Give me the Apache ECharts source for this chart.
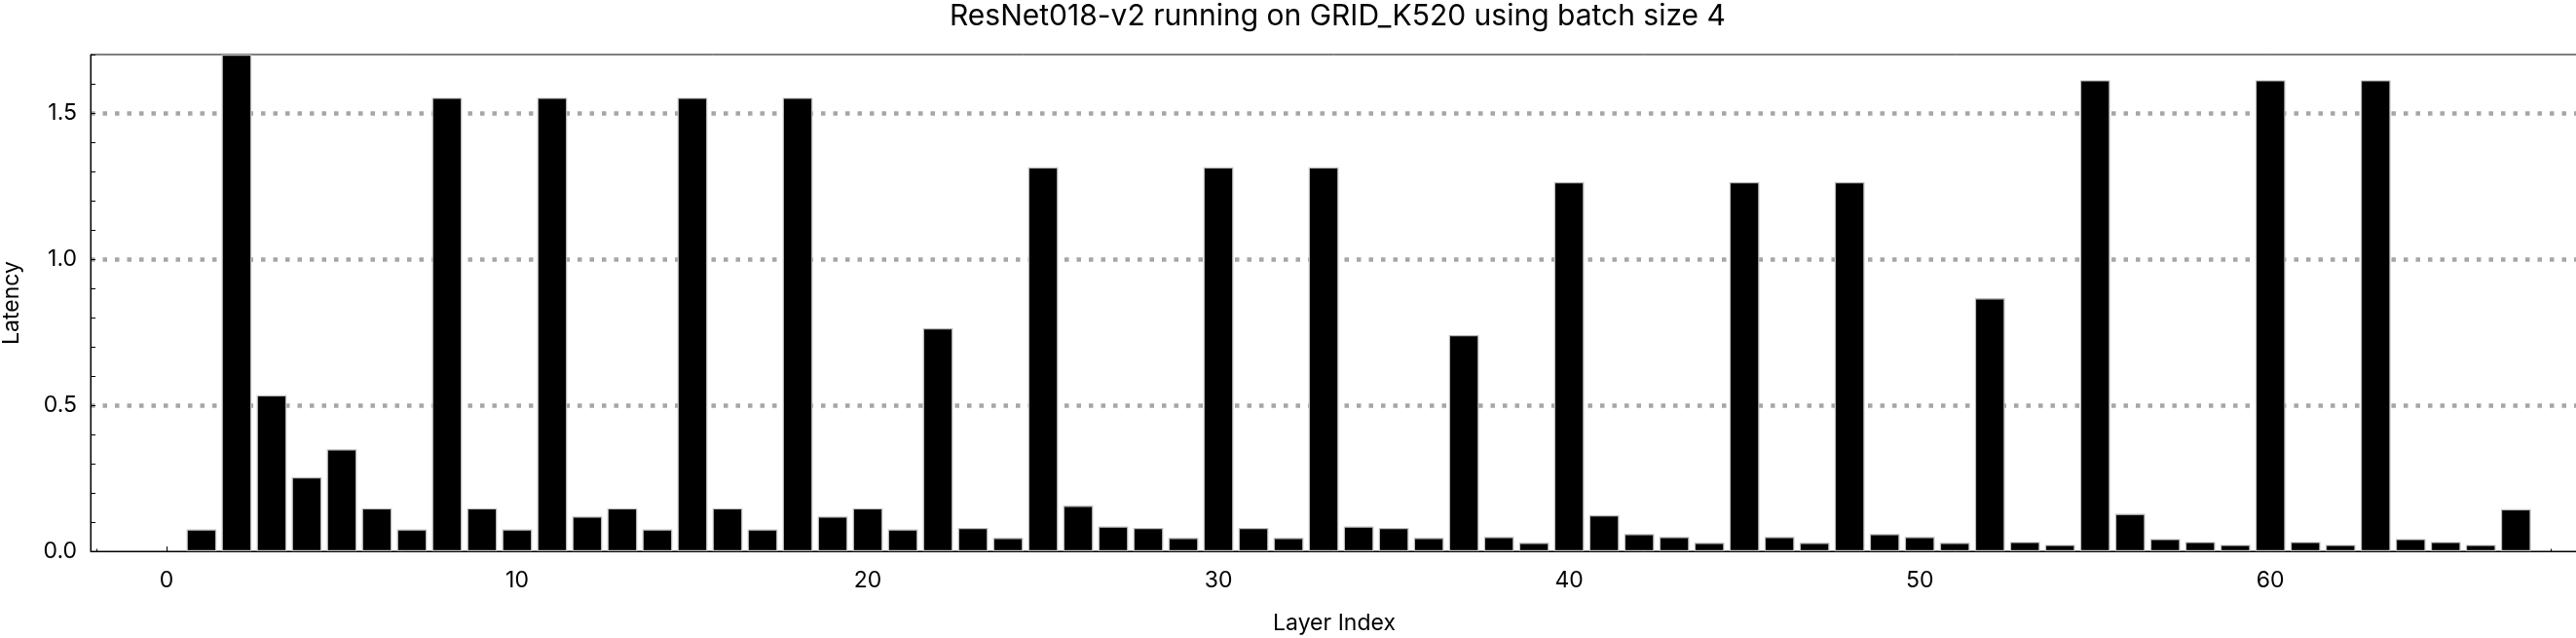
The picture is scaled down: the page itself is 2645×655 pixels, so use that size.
<!DOCTYPE html>
<html>
<head>
<meta charset="utf-8">
<script src="https://cdn.jsdelivr.net/npm/echarts@6/dist/echarts.min.js"></script>
<style>
html,body{margin:0;padding:0;background:#fff;}
#chart{width:2645px;height:655px;}
</style>
</head>
<body>
<div id="chart"></div>
<script>
const titleText = 'ResNet018-v2 running on GRID_K520 using batch size 4';
const xAxisName = 'Layer Index';
const yAxisName = 'Latency';

const layerIndex = [1,2,3,4,5,6,7,8,9,10,11,12,13,14,15,16,17,18,19,20,21,22,23,24,25,26,27,28,29,30,31,32,33,34,35,36,37,38,39,40,41,42,43,44,45,46,47,48,49,50,51,52,53,54,55,56,57,58,59,60,61,62,63,64,65,66,67];
const latency = [0.075,1.70,0.534,0.253,0.349,0.147,0.075,1.552,0.147,0.075,
                 1.552,0.119,0.147,0.075,1.552,0.147,0.075,1.552,0.119,0.147,
                 0.075,0.763,0.080,0.046,1.314,0.156,0.085,0.080,0.046,1.314,
                 0.080,0.046,1.314,0.085,0.080,0.046,0.740,0.049,0.029,1.263,
                 0.123,0.059,0.049,0.029,1.263,0.049,0.029,1.263,0.059,0.049,
                 0.029,0.866,0.032,0.022,1.612,0.128,0.042,0.032,0.022,1.612,
                 0.032,0.022,1.612,0.042,0.032,0.022,0.144];

const xMajorTicks = [0,10,20,30,40,50,60];
const xMinorTicks = [-2,2,4,6,8,12,14,16,18,22,24,26,28,32,34,36,38,42,44,46,48,52,54,56,58,62,64,66,68];

const FONT = 'Inter';
const chart = echarts.init(document.getElementById('chart'), null, {renderer:'canvas'});

const xMin = -2.164, xMax = 68.77;

chart.setOption({
  animation: false,
  backgroundColor: '#fff',
  textStyle: {fontFamily: FONT, color: '#000'},
  title: {
    text: titleText,
    left: 970,
    top: -3,
    textStyle: {fontFamily: FONT, fontSize: 30, fontWeight: 'normal', color: '#000'}
  },
  grid: {
    left: 93, right: -2, top: 56, bottom: 89,
    containLabel: false,
    outerBoundsMode: 'none',
    show: true, borderColor: '#000', borderWidth: 1, backgroundColor: 'transparent'
  },
  xAxis: [{
    type: 'value', min: xMin, max: xMax, position: 'bottom',
    name: xAxisName, nameLocation: 'middle', nameGap: 63,
    nameTextStyle: {fontFamily: FONT, fontSize: 23, color: '#000'},
    axisLine: {show: true, onZero: false, lineStyle: {color: '#000', width: 1}},
    axisTick: {show: true, inside: true, length: 5, customValues: xMajorTicks, lineStyle: {color: '#000', width: 1}},
    axisLabel: {show: true, customValues: xMajorTicks, fontFamily: FONT, fontSize: 23, color: '#000', margin: 19},
    splitLine: {show: false}
  }, {
    type: 'value', min: xMin, max: xMax, position: 'bottom',
    axisLine: {show: false, onZero: false},
    axisTick: {show: true, inside: true, length: 2.5, customValues: xMinorTicks, lineStyle: {color: '#000', width: 1}},
    axisLabel: {show: false},
    splitLine: {show: false}
  }],
  yAxis: [{
    type: 'value', min: 0, max: 1.7, interval: 0.1,
    name: yAxisName, nameLocation: 'middle', nameGap: 69, nameRotate: 90,
    nameTextStyle: {fontFamily: FONT, fontSize: 23, color: '#000'},
    axisLine: {show: true, onZero: false, lineStyle: {color: '#000', width: 1}},
    axisTick: {show: true, inside: true, length: 5, lineStyle: {color: '#000', width: 1}},
    axisLabel: {
      fontFamily: FONT, fontSize: 23, color: '#000', margin: 14,
      formatter: function (v) {
        const h = v * 2;
        return Math.abs(h - Math.round(h)) < 1e-6 && v < 1.65 ? v.toFixed(1) : '';
      }
    },
    splitLine: {show: false}
  }, {
    type: 'value', min: 0, max: 1.7, interval: 0.5, position: 'left',
    axisLine: {show: false, onZero: false}, axisTick: {show: false}, axisLabel: {show: false},
    splitLine: {show: true, showMinLine: false, showMaxLine: false,
      lineStyle: {color: '#a6a6a6', width: 4.5, type: [4.5, 8]}}
  }],
  series: [{
    type: 'bar',
    xAxisIndex: 0, yAxisIndex: 0,
    data: layerIndex.map((x, i) => [x, latency[i]]),
    barWidth: '85%',
    itemStyle: {color: '#000', borderColor: '#bdbdbd', borderWidth: 1.2},
    clip: true
  }]
});
</script>
</body>
</html>
